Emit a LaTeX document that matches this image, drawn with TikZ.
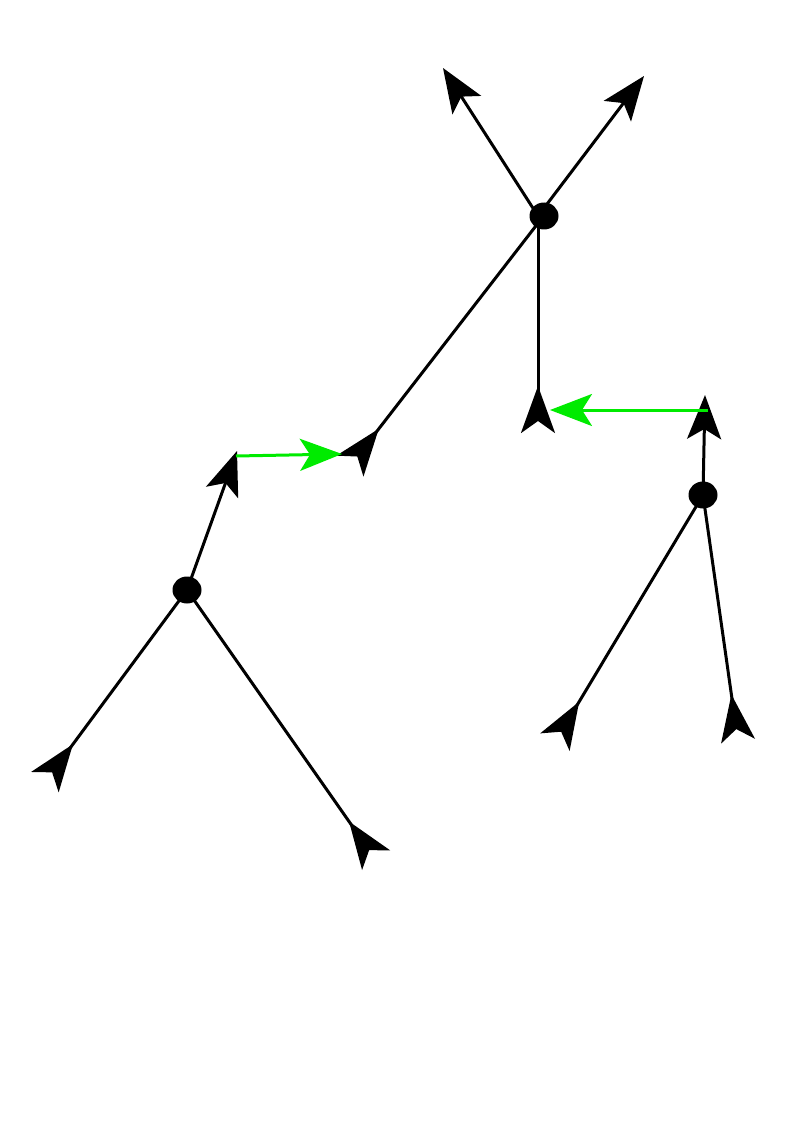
\documentclass[tikz,border=0pt]{standalone}
\usetikzlibrary{arrows.meta,shapes.geometric}
\definecolor{grn}{RGB}{0,235,0}
\begin{document}
\begin{tikzpicture}[x=1pt,y=-1pt,
  edge/.style={line width=3pt,draw=black},
  fwd/.style={edge,-{Stealth[length=44pt,width=34pt,inset=10pt]}},
  rev/.style={edge,-{Stealth[length=47pt,width=34pt,inset=12pt,reversed]}},
  garrow/.style={line width=3pt,draw=grn,-{Stealth[length=42pt,width=32pt,inset=10pt]}},
  dot/.style={ellipse,fill=black,minimum width=29pt,minimum height=27pt,inner sep=0pt}]
\useasboundingbox (0,0) rectangle (794,1123);
% coordinates
\coordinate (th) at (538,216);
\coordinate (tl) at (443,68);
\coordinate (tr) at (644,76);
\coordinate (tdn) at (538,433);
\coordinate (tdl) at (350,466);
\coordinate (lup) at (237,451);
\coordinate (lle) at (45,782);
\coordinate (lri) at (376,860);
\coordinate (rup) at (705,395);
\coordinate (rle) at (555,742);
\coordinate (rri) at (738,741);
\coordinate (g1s) at (236,456);
\coordinate (g1e) at (342,454);
\coordinate (g2s) at (708,410);
\coordinate (g2e) at (550,410);
% top tree
\draw[fwd] (th) -- (tl);
\draw[fwd] (th) -- (tr);
\draw[rev] (th) -- (tdn);
\draw[rev] (542,218) -- (tdl);
\node[dot] (top) at (544,216) {};
% left tree
\draw[fwd] (187,590) -- (lup);
\draw[rev] (187,590) -- (lle);
\draw[rev] (187,590) -- (lri);
\node[dot] (left) at (187,590) {};
% right tree
\draw[fwd] (703,495) -- (rup);
\draw[rev] (703,495) -- (rle);
\draw[rev] (703,495) -- (rri);
\node[dot] (right) at (703,495) {};
% green arrows
\draw[garrow] (g1s) -- (g1e);
\draw[garrow] (g2s) -- (g2e);
\end{tikzpicture}
\end{document}
